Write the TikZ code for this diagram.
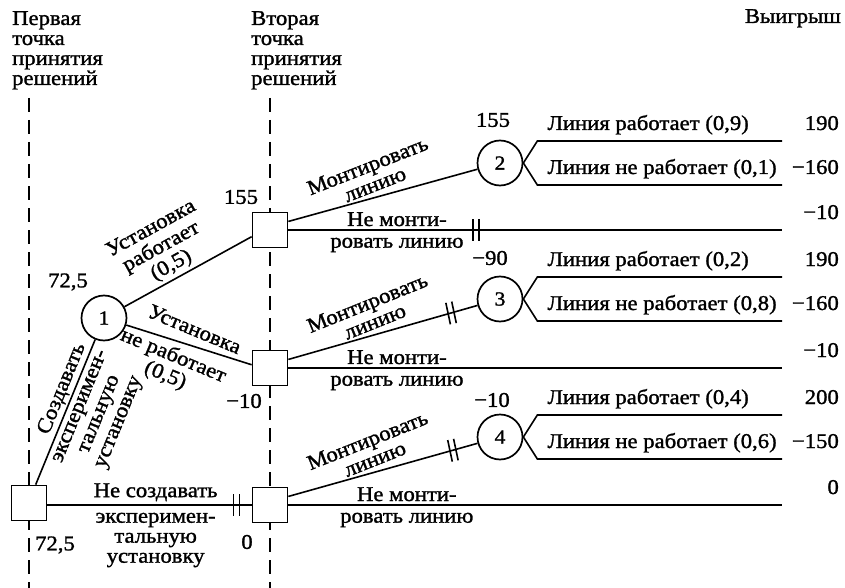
\documentclass[tikz,border=0pt]{standalone}
\usepackage{fontspec}
\setmainfont{Liberation Serif}[FakeStretch=1.08,FakeBold=1.3]
\usetikzlibrary{calc,positioning}
\tikzset{
  decision/.style={draw, rectangle, fill=white, line width=1.7pt, minimum size=35pt, inner sep=0pt},
  chance/.style={draw, circle, fill=white, line width=1.7pt, minimum size=45pt, inner sep=0pt,
    font=\fontsize{20}{20}\selectfont},
  branch/.style={line width=1.6pt},
  stageline/.style={line width=2.6pt, dash pattern=on 14pt off 8pt},
  txt/.style={font=\fontsize{21}{20}\selectfont, inner sep=1pt},
  head/.style={txt, align=left, anchor=north west},
  pay/.style={txt, anchor=base east},
  outc/.style={txt, anchor=base west},
  val/.style={txt}
}
\newcommand{\Cut}[2]{% #1=coordinate on the line, #2=tilt
  \draw[branch, rotate around={#2:(#1)}] ($(#1)+(-3,-11)$) -- ++(0,22)
    ($(#1)+(3,-11)$) -- ++(0,22);
}
\newcommand{\Outcomes}[5]{% #1=chance node, #2/#3=upper text/payoff, #4/#5=lower text/payoff
  \coordinate (#1u) at ($(#1.east)+(14,-22)$);
  \coordinate (#1d) at ($(#1.east)+(14,22)$);
  \coordinate (#1ue) at (#1u -| rim);
  \coordinate (#1de) at (#1d -| rim);
  \draw[branch] (#1.east) -- (#1u) -- (#1ue);
  \draw[branch] (#1.east) -- (#1d) -- (#1de);
  \node[outc] (#1ut) at ($(#1u)+(9,-11)$) {#2};
  \node[outc] (#1dt) at ($(#1d)+(9,-11)$) {#4};
  \node[pay] (#1up) at ($(#1ue)+(58,-11)$) {#3};
  \node[pay] (#1dp) at ($(#1de)+(58,-11)$) {#5};
}

\begin{document}
\begin{tikzpicture}[x=1pt, y=-1pt]
  \useasboundingbox (0,0) rectangle (845,588);
  % headers
  \node[head] (h1) at (11,10) {Первая\\точка\\принятия\\решений};
  \node[head] (h2) at (250,10) {Вторая\\точка\\принятия\\решений};
  \node[txt, anchor=north east] (h3) at (842,8) {Выигрыш};
  % decision points
  \coordinate (s1) at (29,98);  \coordinate (s1b) at (29,588);
  \coordinate (s2) at (270,98); \coordinate (s2b) at (270,588);
  \draw[stageline] (s1) -- (s1b);
  \draw[stageline] (s2) -- (s2b);
  \coordinate (rim) at (782,0);

  \node[decision] (A) at (29,503) {};
  \node[chance] (c1) at (104,318) {1};
  \node[decision] (D) at (270,230) {};
  \node[decision] (C) at (270,368) {};
  \node[decision] (B) at (270,505) {};
  \node[chance] (c2) at (500,163) {2};
  \node[chance] (c3) at (500,299) {3};
  \node[chance] (c4) at (500,437) {4};
  \coordinate (Dend) at (D -| rim);
  \coordinate (Cend) at (C -| rim);
  \coordinate (Bend) at (B -| rim);

  % first decision
  \draw[branch] (A.70) -- node[txt, sloped, above=1pt, pos=0.63] {Создавать}
    node[txt, sloped, below=4pt, align=center, pos=0.57, font=\fontsize{21}{21}\selectfont]
      {эксперимен-\\тальную\\установку} (c1);
  \draw[branch] (A.east |- B) -- node[txt, above=2pt, pos=0.53] {Не создавать}
    node[txt, below=6pt, align=center, pos=0.53] {эксперимен-\\тальную\\установку}
    coordinate[pos=0.925] (cutAB) (B);
  \Cut{cutAB}{0}
  % test outcomes
  \draw[branch] (c1) -- node[txt, sloped, above=2pt, align=center, pos=0.42,
      font=\fontsize{21}{21}\selectfont] {Установка\\работает\\(0,5)} (D.200);
  \draw[branch] (c1) -- node[txt, sloped, rotate=-5, above=8pt, pos=0.5] {Установка}
    node[txt, sloped, rotate=-5, below=4pt, align=center, pos=0.42,
      font=\fontsize{21}{21}\selectfont] {не работает\\(0,5)} (C.170);

  % second decision
  \draw[branch] (D.25) -- node[txt, sloped, rotate=6, above=4pt, align=center, pos=0.48] {Монтировать\\линию} (c2);
  \draw[branch] (D) -- node[txt, above=2pt, pos=0.22] {Не монти-} node[txt, below=6pt, pos=0.22] {ровать линию}
    coordinate[pos=0.38] (cutD) (Dend);
  \Cut{cutD}{0}
  \draw[branch] (C.25) -- node[txt, sloped, rotate=6, above=4pt, align=center, pos=0.48] {Монтировать\\линию}
    coordinate[pos=0.86] (cutC) (c3);
  \Cut{cutC}{12}
  \draw[branch] (C) -- node[txt, above=2pt, pos=0.22] {Не монти-} node[txt, below=6pt, pos=0.22] {ровать линию} (Cend);
  \draw[branch] (B.25) -- node[txt, sloped, rotate=6, above=4pt, align=center, pos=0.48] {Монтировать\\линию}
    coordinate[pos=0.87] (cutB) (c4);
  \Cut{cutB}{12}
  \draw[branch] (B) -- node[txt, above=2pt, pos=0.24] {Не монти-} node[txt, below=6pt, pos=0.24] {ровать линию} (Bend);

  % line outcomes
  \Outcomes{c2}{Линия работает (0,9)}{190}{Линия не работает (0,1)}{−160}
  \Outcomes{c3}{Линия работает (0,2)}{190}{Линия не работает (0,8)}{−160}
  \Outcomes{c4}{Линия работает (0,4)}{200}{Линия не работает (0,6)}{−150}
  \node[pay] (pD) at ($(Dend)+(58,-11)$) {−10};
  \node[pay] (pC) at ($(Cend)+(58,-11)$) {−10};
  \node[pay] (pB) at ($(Bend)+(58,-11)$) {0};

  % expected values
  \node[val] (v1) at (68,282) {72,5};
  \node[val] (vA) at (55,545) {72,5};
  \node[val] (vD) at (241,197) {155};
  \node[val] (vC) at (244,401) {−10};
  \node[val] (vB) at (247,542) {0};
  \node[val] (v2) at (493,120) {155};
  \node[val] (v3) at (490,258) {−90};
  \node[val] (v4) at (492,400) {−10};
\end{tikzpicture}
\end{document}
